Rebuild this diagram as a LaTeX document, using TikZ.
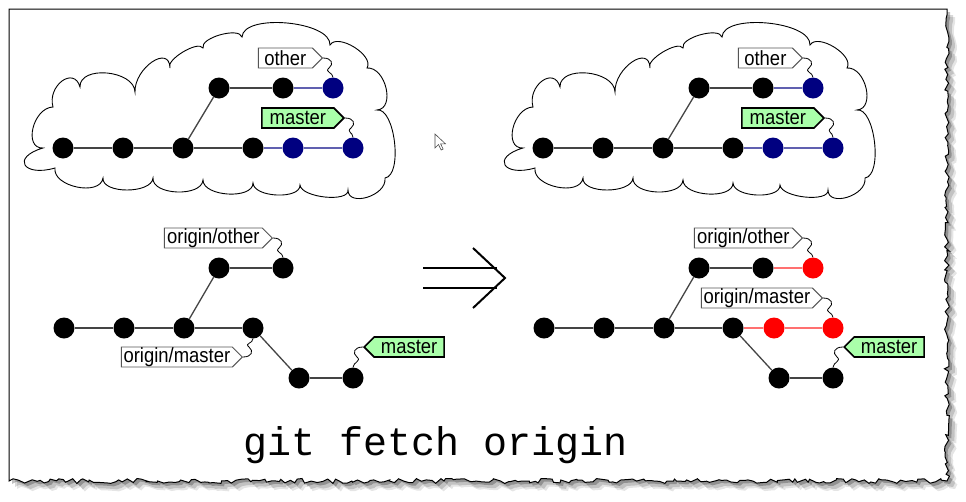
\documentclass[tikz,border=0pt]{standalone}
\usepackage{fontspec}
\setmainfont{Liberation Sans}
\newfontfamily\labfont[FakeStretch=0.9]{Liberation Sans}
\newfontfamily\monof{Liberation Mono}
\usetikzlibrary{shapes.symbols,decorations.pathmorphing}
\definecolor{navyc}{HTML}{000080}
\definecolor{blueline}{HTML}{6060B0}
\definecolor{redline}{HTML}{FF7070}
\definecolor{labgreen}{HTML}{AAFFAA}
\definecolor{labgray}{HTML}{555555}
\definecolor{edgegray}{HTML}{444444}
\tikzset{
 commit/.style={circle,fill=black,minimum size=21pt,inner sep=0pt},
 navy/.style={commit,fill=navyc},
 redc/.style={commit,fill=red},
 edge/.style={draw=edgegray,line width=1.3pt},
 bedge/.style={draw=blueline,line width=1.3pt},
 redge/.style={draw=redline,line width=1.3pt},
 lab/.style={signal,draw=labgray,line width=0.9pt,fill=white,minimum height=20pt,inner xsep=2pt,inner ysep=0pt,align=center,text width=#1,font=\labfont\fontsize{20.5}{20}\selectfont},
 glab/.style={lab=#1,fill=labgreen,draw=black,line width=1.6pt},
 sq/.style={draw=black,line width=0.8pt},
 cloudline/.style={draw=black,line width=0.9pt,fill=white},
 cloudpic/.pic={
  \path[cloudline] (43,148) .. controls (23,148.7) and (33,107.7) .. (53,107)
   .. controls (47,85.7) and (74,65.7) .. (80,87)
   .. controls (79.3,65) and (134.3,70) .. (135,92)
   .. controls (134.3,68) and (169.3,44) .. (170,68)
   .. controls (165.2,60) and (198.2,40) .. (203,48)
   .. controls (200,37.7) and (239,26.7) .. (242,37)
   .. controls (243.3,13) and (331.3,21) .. (330,45)
   .. controls (337.7,32.6) and (374.7,55.6) .. (367,68)
   .. controls (385.7,66.7) and (395.7,108.7) .. (377,110)
   .. controls (395,107.5) and (403,175.5) .. (385,178)
   .. controls (387,196) and (348,207.3) .. (348,190)
   .. controls (349.3,202.7) and (301.3,197.7) .. (300,185)
   .. controls (300.7,199.7) and (253.7,197.7) .. (253,183)
   .. controls (253,199.7) and (203,196.7) .. (203,180)
   .. controls (201.7,197.3) and (151.7,195.3) .. (153,178)
   .. controls (151.7,194) and (101.7,194) .. (103,178)
   .. controls (100.3,196.7) and (52.3,186.7) .. (55,168)
   .. controls (23,177.3) and (11,157.3) .. (43,148) -- cycle;
 }
}
\begin{document}
\begin{tikzpicture}[x=1pt,y=-1pt]
\useasboundingbox (0,0) rectangle (966,501);
\fill[white] (0,0) rectangle (966,501);
% shadow
\begin{scope}[shift={(8,8)}]
\pgfmathsetseed{11}
\fill[black,opacity=0.10] (9,9) -- (947,9) decorate[decoration={random steps,segment length=4pt,amplitude=2.5pt}]{ -- (947,481) -- (9,481)} -- cycle;
\end{scope}
\begin{scope}[shift={(6,6)}]
\pgfmathsetseed{11}
\fill[black,opacity=0.15] (9,9) -- (947,9) decorate[decoration={random steps,segment length=4pt,amplitude=2.5pt}]{ -- (947,481) -- (9,481)} -- cycle;
\end{scope}
\begin{scope}[shift={(3,3)}]
\pgfmathsetseed{11}
\fill[black,opacity=0.25] (9,9) -- (947,9) decorate[decoration={random steps,segment length=4pt,amplitude=2.5pt}]{ -- (947,481) -- (9,481)} -- cycle;
\end{scope}
\pgfmathsetseed{11}
\path[fill=white,draw=black,line width=1pt] (9,9) -- (947,9) decorate[decoration={random steps,segment length=4pt,amplitude=2.5pt}]{ -- (947,481) -- (9,481)} -- cycle;

% clouds
\pic at (0,0) {cloudpic};
\pic at (480,0) {cloudpic};

% ---------- top left (remote) ----------
\node[commit] (a1) at (63,148) {};
\node[commit] (a2) at (123,148) {};
\node[commit] (a3) at (183,148) {};
\node[commit] (a4) at (253,148) {};
\node[navy] (a5) at (293,148) {};
\node[navy] (a6) at (353,148) {};
\node[commit] (a7) at (219,88) {};
\node[commit] (a8) at (283,88) {};
\node[navy] (a9) at (333,88) {};
\draw[edge] (a1) -- (a2); \draw[edge] (a2) -- (a3); \draw[edge] (a3) -- (a4);
\draw[bedge] (a4) -- (a5); \draw[bedge] (a5) -- (a6);
\draw[edge] (a3) -- (a7); \draw[edge] (a7) -- (a8); \draw[bedge] (a8) -- (a9);
\node[lab=50pt,signal to=east,anchor=east] (aother) at (323,58) {other};
\node[glab=68pt,signal to=east,anchor=east] (amaster) at (345,118) {master};
\draw[sq] (aother.east) .. controls +(9,0) and +(5,-4) .. ++(6,10) .. controls +(-5,4) and +(0,-5) .. (a9.north);
\draw[sq] (amaster.east) .. controls +(9,0) and +(5,-4) .. ++(6,10) .. controls +(-5,4) and +(0,-5) .. (a6.north);

% ---------- top right (remote) ----------
\node[commit] (d1) at (543,148) {};
\node[commit] (d2) at (603,148) {};
\node[commit] (d3) at (663,148) {};
\node[commit] (d4) at (733,148) {};
\node[navy] (d5) at (773,148) {};
\node[navy] (d6) at (833,148) {};
\node[commit] (d7) at (699,88) {};
\node[commit] (d8) at (763,88) {};
\node[navy] (d9) at (813,88) {};
\draw[edge] (d1) -- (d2); \draw[edge] (d2) -- (d3); \draw[edge] (d3) -- (d4);
\draw[bedge] (d4) -- (d5); \draw[bedge] (d5) -- (d6);
\draw[edge] (d3) -- (d7); \draw[edge] (d7) -- (d8); \draw[bedge] (d8) -- (d9);
\node[lab=50pt,signal to=east,anchor=east] (dother) at (803,58) {other};
\node[glab=68pt,signal to=east,anchor=east] (dmaster) at (825,118) {master};
\draw[sq] (dother.east) .. controls +(9,0) and +(5,-4) .. ++(6,10) .. controls +(-5,4) and +(0,-5) .. (d9.north);
\draw[sq] (dmaster.east) .. controls +(9,0) and +(5,-4) .. ++(6,10) .. controls +(-5,4) and +(0,-5) .. (d6.north);

% ---------- bottom left (local, before) ----------
\node[commit] (b1) at (64,328) {};
\node[commit] (b2) at (124,328) {};
\node[commit] (b3) at (184,328) {};
\node[commit] (b4) at (253,328) {};
\node[commit] (b5) at (219,268) {};
\node[commit] (b6) at (283,268) {};
\node[commit] (b7) at (299,378) {};
\node[commit] (b8) at (353,378) {};
\draw[edge] (b1) -- (b2); \draw[edge] (b2) -- (b3); \draw[edge] (b3) -- (b4);
\draw[edge] (b3) -- (b5); \draw[edge] (b5) -- (b6);
\draw[edge] (b4) -- (b7); \draw[edge] (b7) -- (b8);
\node[lab=94pt,signal to=east,anchor=east] (bother) at (273,238) {origin/other};
\node[lab=107pt,signal to=east,anchor=east] (borigm) at (243,357) {origin/master};
\node[glab=66pt,signal to=west,anchor=west] (bmaster) at (363,347) {master};
\draw[sq] (bother.east) .. controls +(9,0) and +(5,-4) .. ++(6,10) .. controls +(-5,4) and +(0,-5) .. (b6.north);
\draw[sq] (borigm.east) .. controls +(9,0) and +(5,4) .. ++(6,-10) .. controls +(-5,-4) and +(0,5) .. (b4.south);
\draw[sq] (bmaster.west) .. controls +(-9,0) and +(-5,-4) .. ++(-6,10) .. controls +(5,4) and +(0,-5) .. (b8.north);

% ---------- arrow ----------
\draw[line width=2pt] (423,268) -- (497,268);
\draw[line width=2pt] (423,288) -- (497,288);
\draw[line width=2pt] (473,248) -- (505,278) -- (473,308);

% ---------- bottom right (local, after) ----------
\node[commit] (e1) at (544,328) {};
\node[commit] (e2) at (604,328) {};
\node[commit] (e3) at (664,328) {};
\node[commit] (e4) at (733,328) {};
\node[redc] (e5) at (774,328) {};
\node[redc] (e6) at (833,328) {};
\node[commit] (e7) at (699,268) {};
\node[commit] (e8) at (763,268) {};
\node[redc] (e9) at (813,268) {};
\node[commit] (e10) at (779,378) {};
\node[commit] (e11) at (833,378) {};
\draw[edge] (e1) -- (e2); \draw[edge] (e2) -- (e3); \draw[edge] (e3) -- (e4);
\draw[redge] (e4) -- (e5); \draw[redge] (e5) -- (e6);
\draw[edge] (e3) -- (e7); \draw[edge] (e7) -- (e8); \draw[redge] (e8) -- (e9);
\draw[edge] (e4) -- (e10); \draw[edge] (e10) -- (e11);
\node[lab=94pt,signal to=east,anchor=east] (eother) at (803,238) {origin/other};
\node[lab=107pt,signal to=east,anchor=east] (eorigm) at (823,298) {origin/master};
\node[glab=66pt,signal to=west,anchor=west] (emaster) at (843,347) {master};
\draw[sq] (eother.east) .. controls +(9,0) and +(5,-4) .. ++(6,10) .. controls +(-5,4) and +(0,-5) .. (e9.north);
\draw[sq] (eorigm.east) .. controls +(9,0) and +(5,-4) .. ++(6,10) .. controls +(-5,4) and +(0,-5) .. (e6.north);
\draw[sq] (emaster.west) .. controls +(-9,0) and +(-5,-4) .. ++(-6,10) .. controls +(5,4) and +(0,-5) .. (e11.north);

% ---------- cursor ----------
\draw[fill=white,draw=black!70,line width=0.6pt] (435,134) -- ++(0,14) -- ++(3.5,-3.5) -- ++(2.6,5.5) -- ++(2,-1) -- ++(-2.5,-5.2) -- ++(4.8,0) -- cycle;

% ---------- command ----------
\node[font=\monof\fontsize{40}{40}\selectfont,anchor=base,inner sep=0pt] (cmd) at (436,455) {git fetch origin};
\end{tikzpicture}
\end{document}
